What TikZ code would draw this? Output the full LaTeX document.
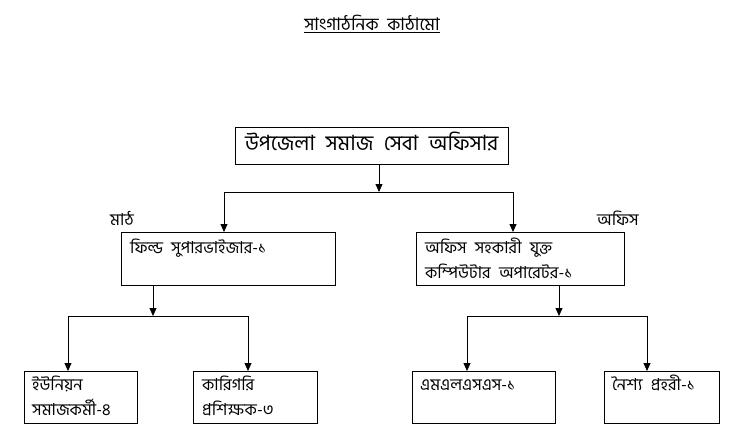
\documentclass[tikz,border=0pt]{standalone}
\usepackage{fontspec}
\newfontfamily\bn[Script=Bengali,WordSpace=2.2]{Hind Siliguri}
\usetikzlibrary{arrows.meta}
\tikzset{
  box/.style={draw=black, line width=0.8pt, rectangle, inner sep=0pt, anchor=north west},
  lbl/.style={font=\bn\fontsize{16.5}{20}\selectfont, inner sep=0pt, anchor=base west},
  big/.style={font=\bn\fontsize{21}{24}\selectfont, inner sep=0pt, anchor=base west},
  conn/.style={draw=black, line width=0.75pt},
  arr/.style={conn, -{Triangle[length=8pt,width=7pt]}},
}
\begin{document}
\begin{tikzpicture}[x=1pt,y=-1pt]
\useasboundingbox (0,0) rectangle (738,433);
% title
\node[font=\bn\fontsize{17.5}{20}\selectfont, inner sep=0pt, anchor=base] (title) at (372,31) {\underline{সাংগাঠনিক কাঠামো}};
% top
\node[box, minimum width=273pt, minimum height=37pt] (top) at (235,127) {};
\node[big] (toptxt) at (245,150) {উপজেলা সমাজ সেবা অফিসার};
% second level
\node[box, minimum width=214pt, minimum height=53pt] (fs) at (121,232) {};
\node[lbl] (fstxt) at (130,253) {ফিল্ড সুপারভাইজার-১};
\node[box, minimum width=208pt, minimum height=53pt] (os) at (416,232) {};
\node[lbl] (ostxta) at (425,253) {অফিস সহকারী যুক্ত};
\node[lbl] (ostxtb) at (425,278) {কম্পিউটার অপারেটর-১};
\node[lbl] (math) at (110,225) {মাঠ};
\node[lbl] (office) at (597,225) {অফিস};
% third level
\node[box, minimum width=113pt, minimum height=52pt] (uw) at (24,371) {};
\node[lbl] (uwtxta) at (32,390) {ইউনিয়ন};
\node[lbl] (uwtxtb) at (32,415) {সমাজকর্মী-৪};
\node[box, minimum width=124pt, minimum height=52pt] (ti) at (193,371) {};
\node[lbl] (titxta) at (202,390) {কারিগরি};
\node[lbl] (titxtb) at (202,415) {প্রশিক্ষক-৩};
\node[box, minimum width=143pt, minimum height=52pt] (ml) at (412,371) {};
\node[lbl] (mltxt) at (420,390) {এমএলএসএস-১};
\node[box, minimum width=115pt, minimum height=52pt] (ng) at (604,371) {};
\node[lbl] (ngtxt) at (612,390) {নৈশ্য প্রহরী-১};
% junctions
\coordinate (t0) at (379,164);
\coordinate (j1) at (379,192);
\coordinate (j1l) at (224,192);
\coordinate (j1r) at (513,192);
\coordinate (f0) at (153,285);
\coordinate (j2) at (153,316);
\coordinate (j2l) at (68,316);
\coordinate (j2r) at (248,316);
\coordinate (o0) at (559,285);
\coordinate (j3) at (559,316);
\coordinate (j3l) at (467,316);
\coordinate (j3r) at (647,316);
% connectors
\draw[arr] (t0) -- (j1);
\draw[conn] (j1l) -- (j1r);
\draw[arr] (j1l) -- (j1l |- fs.north);
\draw[arr] (j1r) -- (j1r |- os.north);
\draw[arr] (f0) -- (j2);
\draw[conn] (j2l) -- (j2r);
\draw[arr] (j2l) -- (j2l |- uw.north);
\draw[arr] (j2r) -- (j2r |- ti.north);
\draw[arr] (o0) -- (j3);
\draw[conn] (j3l) -- (j3r);
\draw[arr] (j3l) -- (j3l |- ml.north);
\draw[arr] (j3r) -- (j3r |- ng.north);
\end{tikzpicture}
\end{document}
